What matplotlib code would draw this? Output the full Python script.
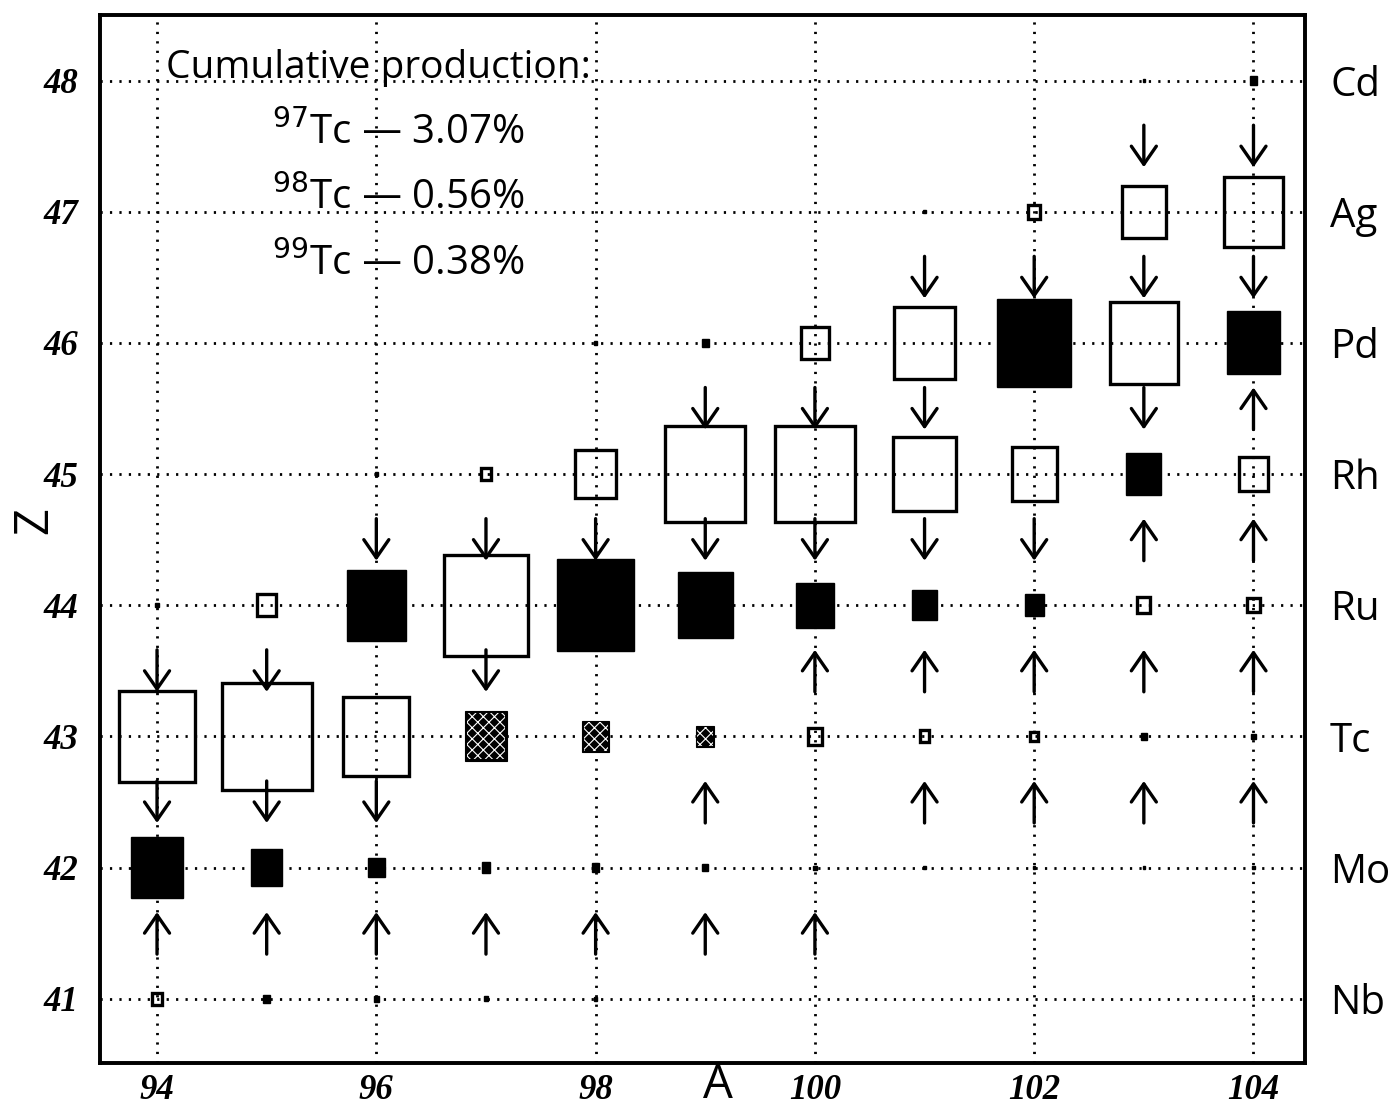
"""Cumulative production chart of nuclides around A = 94-104, Z = 41-48."""

import matplotlib
matplotlib.use("Agg")
import matplotlib.pyplot as plt
from matplotlib.patches import Rectangle

# Element symbols on the right axis, one per Z.
Z_VALUES = [41, 42, 43, 44, 45, 46, 47, 48]
ELEMENTS = ["Nb", "Mo", "Tc", "Ru", "Rh", "Pd", "Ag", "Cd"]
A_TICKS = [94, 96, 98, 100, 102, 104]

# Open (unfilled) boxes: mass number, charge, side length in axis units.
open_A = [102, 103, 104, 100, 101, 103, 97, 98, 99, 100, 101, 102, 104,
          95, 97, 103, 104, 94, 95, 96, 100, 101, 102, 94]
open_Z = [47, 47, 47, 46, 46, 46, 45, 45, 45, 45, 45, 45, 45,
          44, 44, 44, 44, 43, 43, 43, 43, 43, 43, 41]
open_s = [0.11, 0.40, 0.53, 0.25, 0.55, 0.62, 0.09, 0.37, 0.73, 0.73, 0.57, 0.41, 0.26,
          0.17, 0.77, 0.12, 0.11, 0.69, 0.82, 0.60, 0.13, 0.09, 0.07, 0.09]

# Filled boxes (including the tiny dots).
filled_A = [103, 104, 101, 98, 99, 102, 104, 96, 103, 94, 96, 98, 99, 100, 101, 102,
            103, 104, 94, 95, 96, 97, 98, 99, 100, 101, 102, 103, 104,
            95, 96, 97, 98]
filled_Z = [48, 48, 47, 46, 46, 46, 46, 45, 45, 44, 44, 44, 44, 44, 44, 44,
            43, 43, 42, 42, 42, 42, 42, 42, 42, 42, 42, 42, 42,
            41, 41, 41, 41]
filled_s = [0.02, 0.07, 0.025, 0.025, 0.06, 0.67, 0.48, 0.025, 0.32, 0.03, 0.54, 0.70,
            0.50, 0.34, 0.23, 0.17, 0.05, 0.04, 0.47, 0.28, 0.15, 0.08, 0.07, 0.055,
            0.03, 0.02, 0.02, 0.02, 0.02, 0.06, 0.045, 0.035, 0.03]

# Hatched boxes (Tc isotopes).
hatch_A = [97, 98, 99]
hatch_Z = [43, 43, 43]
hatch_s = [0.38, 0.24, 0.16]

# Decay arrows: position (A, Z midway between rows).
down_A = [103, 104, 101, 102, 103, 104, 99, 100, 101, 103,
          96, 97, 98, 99, 100, 101, 102, 94, 95, 97, 94, 95, 96]
down_Z = [47.5, 47.5, 46.5, 46.5, 46.5, 46.5, 45.5, 45.5, 45.5, 45.5,
          44.5, 44.5, 44.5, 44.5, 44.5, 44.5, 44.5, 43.5, 43.5, 43.5, 42.5, 42.5, 42.5]
up_A = [94, 95, 96, 97, 98, 99, 100, 99, 101, 102, 103, 104,
        100, 101, 102, 103, 104, 103, 104, 104]
up_Z = [41.5, 41.5, 41.5, 41.5, 41.5, 41.5, 41.5, 42.5, 42.5, 42.5, 42.5, 42.5,
        43.5, 43.5, 43.5, 43.5, 43.5, 44.5, 44.5, 45.5]

ANNOT_TITLE = "Cumulative production:"
ANNOT_ISOTOPES = [r"$^{97}$Tc", r"$^{98}$Tc", r"$^{99}$Tc"]
ANNOT_VALUES = ["3.07%", "0.56%", "0.38%"]

SANS = ["Open Sans", "DejaVu Sans"]
SERIF = "Liberation Serif"

fig = plt.figure(figsize=(13.95, 11.06), dpi=100)
ax = fig.add_axes([0.0717, 0.0389, 0.8638, 0.9475])
ax.set_xlim(93.48, 104.47)
ax.set_ylim(40.51, 48.5)

dotted = (0, (0.8, 2.6))
for z in Z_VALUES:
    ax.axhline(z, color="black", lw=2.0, linestyle=dotted, zorder=1)
for a in A_TICKS:
    ax.axvline(a, color="black", lw=2.0, linestyle=dotted, zorder=1)


def add_box(a, z, s, **kw):
    ax.add_patch(Rectangle((a - s / 2, z - s / 2), s, s, **kw))


for a, z, s in zip(open_A, open_Z, open_s):
    add_box(a, z, s, facecolor="none", edgecolor="black", lw=2.4, zorder=3)
for a, z, s in zip(filled_A, filled_Z, filled_s):
    add_box(a, z, s, facecolor="black", edgecolor="black", lw=1.0, zorder=3)
plt.rcParams["hatch.linewidth"] = 0.8
for a, z, s in zip(hatch_A, hatch_Z, hatch_s):
    add_box(a, z, s, facecolor="black", edgecolor="black", lw=0.8, zorder=3)
    add_box(a, z, s * 0.92, facecolor="none", edgecolor="white", hatch="xxx", lw=0, zorder=3.5)

half = 0.16
arrow_kw = dict(arrowstyle="->,head_width=0.45,head_length=0.65", lw=2.4, color="black",
                shrinkA=0, shrinkB=0, mutation_scale=20)
for a, z in zip(down_A, down_Z):
    ax.annotate("", xy=(a, z - half), xytext=(a, z + half),
                arrowprops=arrow_kw, zorder=4)
for a, z in zip(up_A, up_Z):
    ax.annotate("", xy=(a, z + half), xytext=(a, z - half),
                arrowprops=arrow_kw, zorder=4)

# Annotation block, top left.
ax.text(94.08, 48.1, ANNOT_TITLE, family=SANS, fontsize=28, va="center", ha="left", zorder=5)
for i, (iso, val) in enumerate(zip(ANNOT_ISOTOPES, ANNOT_VALUES)):
    y = 47.6 - 0.5 * i
    ax.text(95.05, y, iso + " \u2014 " + val, family=SANS, fontsize=29,
            va="center", ha="left", zorder=5)

# Axes ticks and labels.
ax.set_xticks(A_TICKS)
ax.set_xticklabels([str(a) for a in A_TICKS], family=SERIF,
                   fontsize=25, fontweight="bold", style="italic")
ax.set_yticks(Z_VALUES)
ax.set_yticklabels([str(z) for z in Z_VALUES], family=SERIF,
                   fontsize=25, fontweight="bold", style="italic")
ax.tick_params(axis="x", length=0, pad=8)
ax.tick_params(axis="y", length=0, pad=16)

right = ax.twinx()
right.set_ylim(ax.get_ylim())
right.set_yticks(Z_VALUES)
right.set_yticklabels(ELEMENTS, family=SANS, fontsize=29)
right.tick_params(axis="y", length=0, pad=18)

ax.set_xlabel("A", family=SANS, fontsize=34)
ax.xaxis.set_label_coords(0.513, -0.021)
ax.xaxis.label.set_va("center")
ax.set_ylabel("Z", family=SANS, fontsize=34)
ax.yaxis.set_label_coords(-0.054, 0.518)
ax.yaxis.label.set_va("center")

for sp in list(ax.spines.values()) + list(right.spines.values()):
    sp.set_linewidth(2.6)

fig.savefig("out.png", dpi=100)
